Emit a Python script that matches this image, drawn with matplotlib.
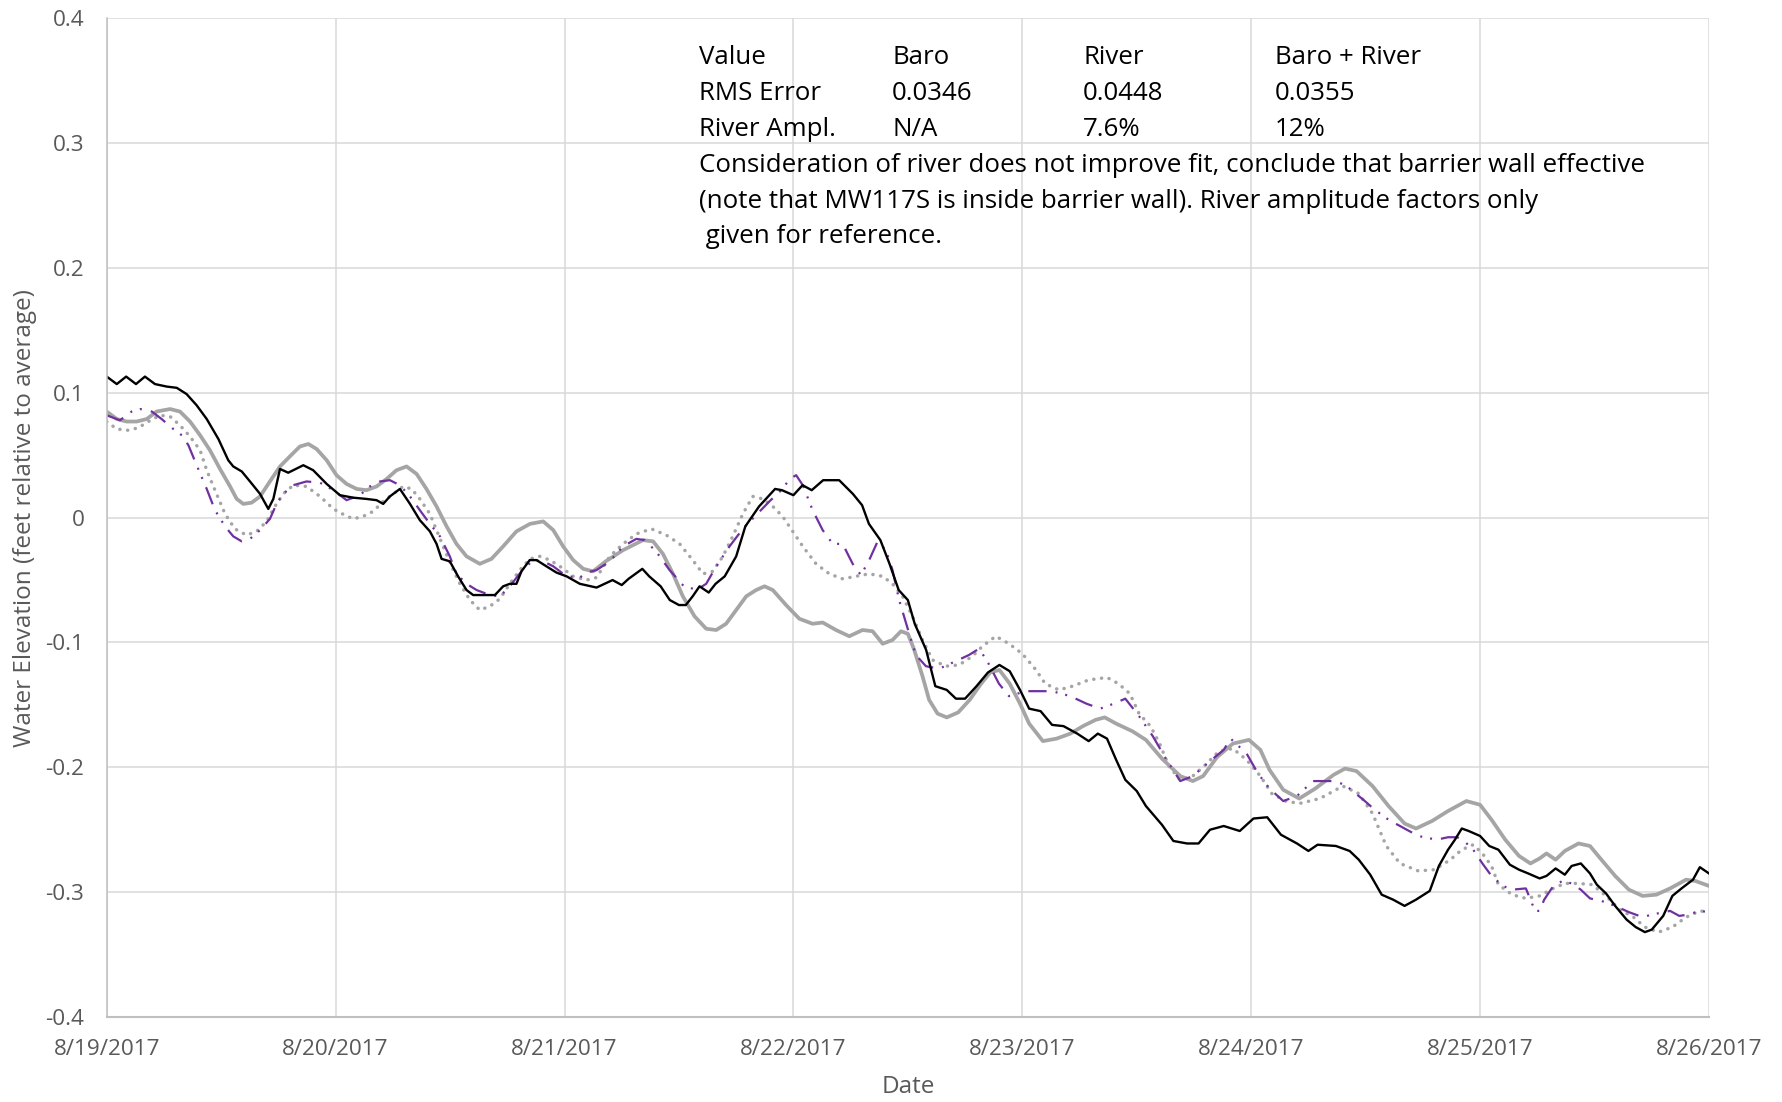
import numpy as np
import matplotlib
matplotlib.use("Agg")
import matplotlib.pyplot as plt
import matplotlib.dates as mdates

plt.rcParams['font.family'] = ['Open Sans', 'DejaVu Sans']

# elapsed time (days since 8/19/2017 00:00) and water level (ft relative to average)
measured_t = [0.000, 0.044, 0.085, 0.128, 0.167, 0.211, 0.262, 0.306, 0.349, 0.393,
              0.437, 0.488, 0.531, 0.553, 0.590, 0.626, 0.670, 0.706, 0.728, 0.757,
              0.793, 0.859, 0.902, 0.961, 1.019, 1.077, 1.135, 1.179, 1.208, 1.237,
              1.281, 1.325, 1.368, 1.412, 1.441, 1.463, 1.499, 1.535, 1.572, 1.601,
              1.645, 1.696, 1.732, 1.761, 1.790, 1.812, 1.848, 1.878, 1.921, 1.965,
              2.009, 2.067, 2.14, 2.21, 2.25, 2.28, 2.34, 2.37, 2.42, 2.46,
              2.50, 2.53, 2.56, 2.59, 2.63, 2.66, 2.70, 2.75, 2.79, 2.85,
              2.92, 2.95, 3.00, 3.04, 3.08, 3.13, 3.20, 3.26, 3.30, 3.33,
              3.38, 3.42, 3.46, 3.50, 3.53, 3.58, 3.62, 3.67, 3.71, 3.75,
              3.80, 3.85, 3.90, 3.945, 3.99, 4.03, 4.08, 4.13, 4.18, 4.24,
              4.29, 4.33, 4.37, 4.41, 4.45, 4.50, 4.54, 4.61, 4.66, 4.72,
              4.77, 4.82, 4.88, 4.95, 5.01, 5.07, 5.13, 5.20, 5.25, 5.29,
              5.37, 5.43, 5.47, 5.52, 5.57, 5.62, 5.67, 5.72, 5.78, 5.82,
              5.86, 5.89, 5.92, 5.95, 6.00, 6.04, 6.08, 6.13, 6.17, 6.21,
              6.26, 6.29, 6.33, 6.37, 6.40, 6.44, 6.48, 6.51, 6.55, 6.59,
              6.64, 6.68, 6.72, 6.75, 6.80, 6.84, 6.88, 6.93, 6.96, 7.00]
measured_z = [0.113, 0.107, 0.113, 0.107, 0.113, 0.107, 0.105, 0.104, 0.099, 0.090,
              0.079, 0.063, 0.046, 0.041, 0.037, 0.029, 0.019, 0.007, 0.015, 0.039,
              0.036, 0.042, 0.038, 0.027, 0.018, 0.016, 0.015, 0.014, 0.011, 0.017,
              0.023, 0.011, -0.002, -0.011, -0.021, -0.033, -0.035, -0.047, -0.058, -0.062,
              -0.062, -0.062, -0.055, -0.053, -0.053, -0.043, -0.034, -0.034, -0.039, -0.044,
              -0.047, -0.053, -0.056, -0.050, -0.054, -0.049, -0.041, -0.047, -0.055, -0.066,
              -0.070, -0.070, -0.063, -0.055, -0.060, -0.053, -0.047, -0.031, -0.007, 0.009,
              0.023, 0.022, 0.018, 0.026, 0.022, 0.030, 0.030, 0.019, 0.010, -0.005,
              -0.018, -0.037, -0.058, -0.066, -0.085, -0.106, -0.135, -0.138, -0.145, -0.145,
              -0.135, -0.124, -0.118, -0.123, -0.138, -0.153, -0.155, -0.166, -0.167, -0.173,
              -0.179, -0.173, -0.177, -0.194, -0.210, -0.219, -0.231, -0.246, -0.259, -0.261,
              -0.261, -0.250, -0.247, -0.251, -0.241, -0.240, -0.254, -0.261, -0.267, -0.262,
              -0.263, -0.267, -0.274, -0.286, -0.302, -0.306, -0.311, -0.306, -0.299, -0.279,
              -0.266, -0.258, -0.249, -0.251, -0.255, -0.263, -0.266, -0.278, -0.282, -0.285,
              -0.289, -0.287, -0.281, -0.286, -0.279, -0.277, -0.285, -0.294, -0.301, -0.311,
              -0.322, -0.328, -0.332, -0.330, -0.319, -0.303, -0.297, -0.290, -0.280, -0.285]

baro_t = [0.000, 0.044, 0.087, 0.131, 0.175, 0.218, 0.277, 0.320, 0.364, 0.408,
          0.451, 0.495, 0.539, 0.568, 0.597, 0.633, 0.670, 0.713, 0.757, 0.800,
          0.844, 0.881, 0.917, 0.961, 1.004, 1.048, 1.092, 1.135, 1.179, 1.223,
          1.266, 1.310, 1.354, 1.397, 1.441, 1.485, 1.528, 1.572, 1.630, 1.681,
          1.732, 1.790, 1.849, 1.907, 1.951, 1.994, 2.038, 2.082, 2.125, 2.18,
          2.256, 2.343, 2.387, 2.43, 2.474, 2.517, 2.568, 2.619, 2.663, 2.706,
          2.75, 2.794, 2.837, 2.874, 2.91, 2.968, 3.026, 3.084, 3.128, 3.186,
          3.244, 3.302, 3.346, 3.39, 3.433, 3.47, 3.50, 3.528, 3.564, 3.593,
          3.63, 3.67, 3.72, 3.77, 3.82, 3.86, 3.90, 3.945, 3.99, 4.03,
          4.09, 4.15, 4.21, 4.265, 4.32, 4.36, 4.41, 4.48, 4.54, 4.61,
          4.69, 4.745, 4.79, 4.85, 4.92, 4.99, 5.04, 5.08, 5.14, 5.21,
          5.28, 5.36, 5.41, 5.46, 5.53, 5.60, 5.67, 5.72, 5.79, 5.86,
          5.94, 6.00, 6.05, 6.11, 6.17, 6.22, 6.26, 6.29, 6.33, 6.37,
          6.43, 6.48, 6.53, 6.59, 6.65, 6.71, 6.77, 6.83, 6.90, 6.94, 7.00]
baro_z = [0.085, 0.079, 0.077, 0.077, 0.079, 0.085, 0.087, 0.085, 0.077, 0.066,
          0.054, 0.039, 0.025, 0.015, 0.011, 0.012, 0.017, 0.029, 0.041, 0.049,
          0.057, 0.059, 0.055, 0.046, 0.034, 0.027, 0.023, 0.022, 0.025, 0.031,
          0.038, 0.041, 0.035, 0.023, 0.009, -0.007, -0.021, -0.031, -0.037, -0.033,
          -0.023, -0.011, -0.005, -0.003, -0.010, -0.023, -0.034, -0.041, -0.043, -0.035,
          -0.026, -0.018, -0.019, -0.029, -0.045, -0.063, -0.079, -0.089, -0.090, -0.085,
          -0.074, -0.063, -0.058, -0.055, -0.058, -0.070, -0.081, -0.085, -0.084, -0.090,
          -0.095, -0.090, -0.091, -0.101, -0.098, -0.091, -0.093, -0.106, -0.127, -0.146,
          -0.157, -0.160, -0.156, -0.146, -0.133, -0.124, -0.122, -0.133, -0.149, -0.165,
          -0.179, -0.177, -0.173, -0.167, -0.162, -0.160, -0.165, -0.171, -0.178, -0.193,
          -0.207, -0.211, -0.207, -0.192, -0.181, -0.178, -0.186, -0.202, -0.218, -0.225,
          -0.217, -0.206, -0.201, -0.203, -0.215, -0.231, -0.245, -0.249, -0.243, -0.235,
          -0.227, -0.230, -0.242, -0.258, -0.271, -0.277, -0.273, -0.269, -0.274, -0.267,
          -0.261, -0.263, -0.274, -0.287, -0.298, -0.303, -0.302, -0.297, -0.290, -0.291, -0.295]

river_t = [0.000, 0.044, 0.094, 0.138, 0.182, 0.233, 0.277, 0.320, 0.364, 0.408,
           0.437, 0.473, 0.517, 0.560, 0.611, 0.655, 0.699, 0.735, 0.771, 0.815,
           0.873, 0.932, 0.990, 1.040, 1.077, 1.120, 1.164, 1.208, 1.252, 1.295,
           1.332, 1.368, 1.412, 1.441, 1.470, 1.507, 1.543, 1.587, 1.630, 1.674,
           1.718, 1.761, 1.805, 1.849, 1.892, 1.936, 1.980, 2.038, 2.096, 2.14,
           2.198, 2.256, 2.314, 2.38, 2.445, 2.503, 2.56, 2.605, 2.648, 2.692,
           2.735, 2.779, 2.823, 2.866, 2.91, 2.953, 2.997, 3.041, 3.099, 3.157,
           3.215, 3.273, 3.331, 3.39, 3.433, 3.477, 3.52, 3.564, 3.608, 3.666,
           3.724, 3.782, 3.826, 3.884, 3.942, 4.00, 4.06, 4.10, 4.16, 4.22,
           4.29, 4.37, 4.42, 4.47, 4.51, 4.56, 4.60, 4.64, 4.69, 4.745,
           4.80, 4.86, 4.92, 4.98, 5.04, 5.09, 5.15, 5.21, 5.30, 5.40,
           5.47, 5.53, 5.59, 5.65, 5.73, 5.80, 5.87, 5.92, 5.97, 6.01,
           6.05, 6.08, 6.14, 6.20, 6.26, 6.32, 6.37, 6.43, 6.49, 6.55,
           6.61, 6.67, 6.72, 6.78, 6.84, 6.90, 6.96, 7.00]
river_z = [0.077, 0.071, 0.070, 0.072, 0.077, 0.082, 0.081, 0.074, 0.065, 0.054,
           0.038, 0.022, 0.003, -0.009, -0.014, -0.011, -0.003, 0.009, 0.019, 0.026,
           0.025, 0.017, 0.007, 0.002, -0.001, 0.001, 0.005, 0.013, 0.019, 0.025,
           0.023, 0.015, 0.003, -0.010, -0.023, -0.039, -0.053, -0.066, -0.074, -0.071,
           -0.065, -0.053, -0.042, -0.033, -0.031, -0.034, -0.039, -0.047, -0.050, -0.048,
           -0.031, -0.021, -0.013, -0.009, -0.014, -0.021, -0.034, -0.045, -0.043, -0.031,
           -0.015, 0.003, 0.017, 0.015, 0.009, 0.001, -0.011, -0.023, -0.037, -0.045,
           -0.049, -0.047, -0.045, -0.047, -0.053, -0.063, -0.079, -0.098, -0.114, -0.119,
           -0.118, -0.111, -0.103, -0.095, -0.101, -0.109, -0.122, -0.133, -0.138, -0.135,
           -0.130, -0.128, -0.133, -0.141, -0.157, -0.167, -0.181, -0.199, -0.210, -0.207,
           -0.198, -0.187, -0.185, -0.194, -0.207, -0.221, -0.227, -0.229, -0.225, -0.215,
           -0.221, -0.237, -0.263, -0.277, -0.283, -0.282, -0.274, -0.266, -0.262, -0.269,
           -0.279, -0.294, -0.302, -0.305, -0.303, -0.297, -0.293, -0.293, -0.294, -0.303,
           -0.314, -0.320, -0.328, -0.332, -0.328, -0.320, -0.315, -0.316]

combined_t = [0.000, 0.058, 0.109, 0.146, 0.197, 0.240, 0.291, 0.328, 0.357, 0.393,
              0.437, 0.473, 0.517, 0.553, 0.590, 0.626, 0.670, 0.713, 0.742, 0.771,
              0.815, 0.873, 0.932, 0.990, 1.048, 1.106, 1.150, 1.194, 1.237, 1.281,
              1.325, 1.368, 1.412, 1.456, 1.499, 1.528, 1.572, 1.616, 1.674, 1.718,
              1.761, 1.812, 1.863, 1.907, 1.951, 2.009, 2.067, 2.096, 2.14, 2.198,
              2.256, 2.314, 2.35, 2.40, 2.459, 2.517, 2.576, 2.619, 2.663, 2.721,
              2.779, 2.837, 2.895, 2.953, 2.983, 3.012, 3.041, 3.084, 3.128, 3.172,
              3.215, 3.259, 3.295, 3.331, 3.368, 3.404, 3.433, 3.462, 3.506, 3.535,
              3.579, 3.637, 3.709, 3.767, 3.811, 3.847, 3.898, 3.942, 4.015, 4.10,
              4.13, 4.21, 4.28, 4.34, 4.40, 4.45, 4.51, 4.57, 4.63, 4.69,
              4.745, 4.82, 4.88, 4.91, 4.98, 5.03, 5.08, 5.14, 5.20, 5.27,
              5.36, 5.41, 5.49, 5.54, 5.60, 5.68, 5.73, 5.81, 5.86, 5.90,
              5.93, 5.97, 6.01, 6.05, 6.10, 6.14, 6.20, 6.22, 6.24, 6.26,
              6.28, 6.32, 6.36, 6.40, 6.44, 6.48, 6.53, 6.59, 6.65, 6.71,
              6.75, 6.83, 6.87, 6.91, 6.96, 7.00]
combined_z = [0.082, 0.078, 0.085, 0.087, 0.085, 0.079, 0.071, 0.066, 0.058, 0.042,
              0.023, 0.006, -0.007, -0.015, -0.019, -0.017, -0.010, -0.001, 0.011, 0.019,
              0.026, 0.029, 0.028, 0.022, 0.014, 0.018, 0.025, 0.029, 0.030, 0.026,
              0.017, 0.006, -0.005, -0.015, -0.031, -0.045, -0.053, -0.058, -0.062, -0.063,
              -0.055, -0.043, -0.034, -0.035, -0.039, -0.047, -0.048, -0.044, -0.042, -0.035,
              -0.023, -0.017, -0.018, -0.027, -0.042, -0.054, -0.058, -0.053, -0.039, -0.023,
              -0.009, 0.002, 0.013, 0.023, 0.031, 0.034, 0.026, 0.006, -0.010, -0.021,
              -0.021, -0.037, -0.046, -0.034, -0.019, -0.026, -0.042, -0.066, -0.093, -0.110,
              -0.119, -0.121, -0.115, -0.110, -0.105, -0.115, -0.133, -0.143, -0.139, -0.139,
              -0.139, -0.143, -0.149, -0.153, -0.149, -0.145, -0.159, -0.175, -0.194, -0.211,
              -0.207, -0.195, -0.186, -0.177, -0.189, -0.205, -0.217, -0.227, -0.223, -0.211,
              -0.211, -0.214, -0.226, -0.234, -0.242, -0.250, -0.255, -0.258, -0.256, -0.256,
              -0.259, -0.266, -0.277, -0.287, -0.295, -0.298, -0.297, -0.306, -0.315, -0.315,
              -0.306, -0.295, -0.291, -0.293, -0.298, -0.305, -0.307, -0.311, -0.316, -0.320,
              -0.318, -0.315, -0.319, -0.318, -0.315, -0.316]

y_ticks = [-0.4, -0.3, -0.2, -0.1, 0.0, 0.1, 0.2, 0.3, 0.4]
y_tick_labels = ['-0.4', '-0.3', '-0.2', '-0.1', '0', '0.1', '0.2', '0.3', '0.4']

table_rows = [['Value', 'Baro', 'River', 'Baro + River'],
              ['RMS Error', '0.0346', '0.0448', '0.0355'],
              ['River Ampl.', 'N/A', '7.6%', '12%']]
note_lines = ['Consideration of river does not improve fit, conclude that barrier wall effective',
              '(note that MW117S is inside barrier wall). River amplitude factors only',
              ' given for reference.']

start = np.datetime64('2017-08-19T00:00:00')


def to_dates(days):
    return start + (np.asarray(days) * 86400).astype('timedelta64[s]')


W, H = 1782, 1102
fig = plt.figure(figsize=(W / 100, H / 100), dpi=100)
ax = fig.add_axes([106.7 / W, 1 - 1017 / H, (1709 - 106.7) / W, (1017 - 18.3) / H])

grey = '#A5A5A5'
ax.plot(to_dates(baro_t), baro_z, color=grey, lw=2.7, solid_joinstyle='round', solid_capstyle='round')
ax.plot(to_dates(river_t), river_z, color=grey, lw=2.5, dashes=(0.05, 2.2), dash_capstyle='round')
ax.plot(to_dates(combined_t), combined_z, color='#7030A0', lw=1.6,
        dashes=(8.2, 4.1, 0.9, 3.6, 0.9, 4.1))
ax.plot(to_dates(measured_t), measured_z, color='black', lw=1.7, solid_joinstyle='round')

ax.set_xlim(to_dates([0])[0], to_dates([7])[0])
ax.set_ylim(-0.4, 0.4)
ax.set_yticks(y_ticks)
ax.set_yticklabels(y_tick_labels)
ax.xaxis.set_major_locator(mdates.DayLocator())
ax.xaxis.set_major_formatter(mdates.DateFormatter('%-m/%-d/%Y'))

ax.grid(True, color='#D9D9D9', lw=1.1)
ax.set_axisbelow(True)
for side in ['top', 'right']:
    ax.spines[side].set_visible(False)
ax.spines['left'].set_color('#BFBFBF')
ax.spines['left'].set_linewidth(1.1)
ax.spines['bottom'].set_color('#BFBFBF')
ax.spines['bottom'].set_linewidth(1.5)
ax.tick_params(axis='y', length=0, pad=16, labelsize=16.2, labelcolor='#595959')
ax.tick_params(axis='x', length=0, pad=16, labelsize=16.2, labelcolor='#595959')

ax.set_xlabel('Date', fontsize=17.5, color='#595959')
ax.set_ylabel('Water Elevation (feet relative to average)', fontsize=17.5, color='#595959')
ax.xaxis.label.set_va('center')
ax.yaxis.label.set_va('center')
ax.xaxis.set_label_coords(0.5, -(1087 - 1017) / (1017 - 18.3))
ax.yaxis.set_label_coords(-(106.7 - 25) / (1709 - 106.7), 0.5)

# summary table and note
col_x = [699, 892, 1083, 1275]
row_y = [57.0, 93.4, 129.7]
for row, y in zip(table_rows, row_y):
    for cell, x in zip(row, col_x):
        fig.text(x / W, 1 - y / H, cell, fontsize=18.6, va='center', ha='left', color='black')
for i, line in enumerate(note_lines):
    fig.text(699 / W, 1 - (166.0 + 35.3 * i) / H, line, fontsize=18.6, va='center', ha='left', color='black')

fig.savefig('out.png', dpi=100)
